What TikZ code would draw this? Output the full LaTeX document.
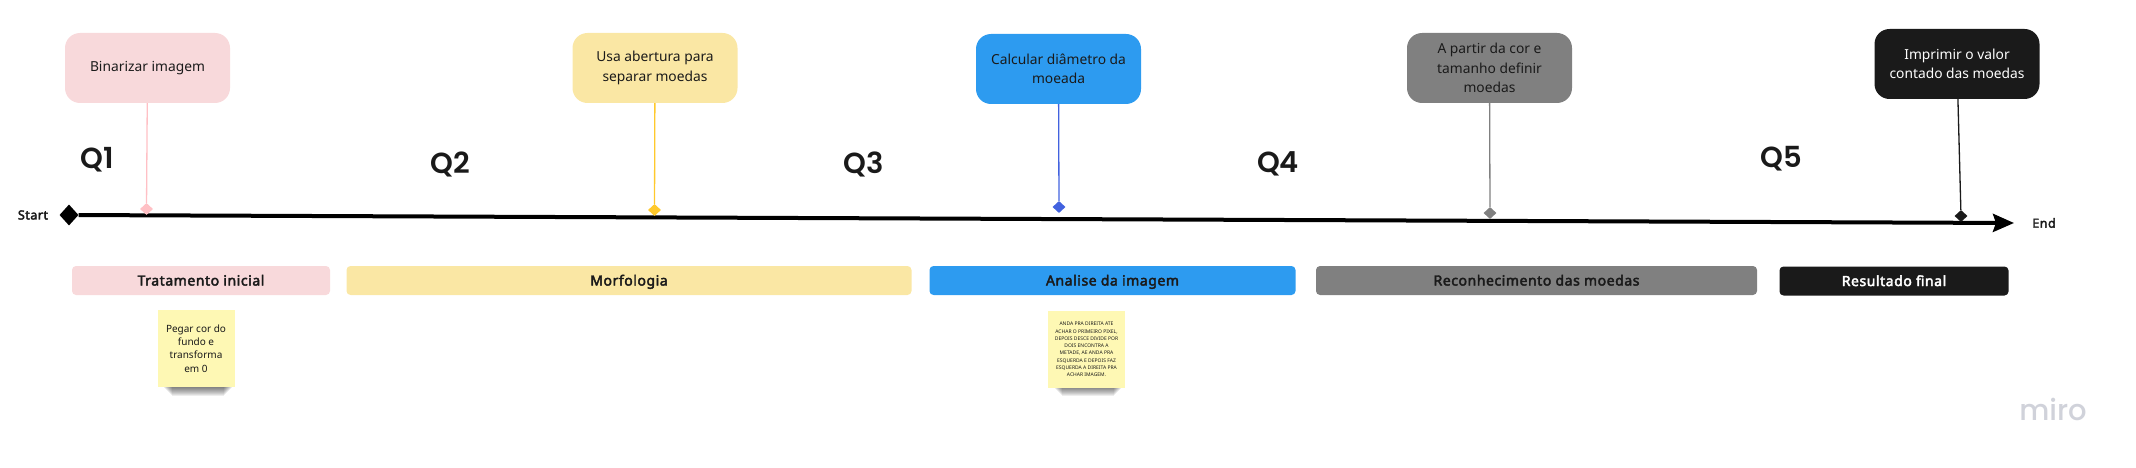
\documentclass[tikz,border=0pt]{standalone}
\usepackage{fontspec}
\setmainfont{Noto Sans}[BoldFont={Noto Sans},BoldFeatures={FakeBold=3,LetterSpace=4}]
\newfontfamily\qfont{Poppins SemiBold}
\newfontfamily\logofont{Poppins Medium}
\usetikzlibrary{positioning,arrows.meta,shapes.geometric}
\definecolor{roseclr}{RGB}{248,217,219}
\definecolor{roseline}{RGB}{255,192,197}
\definecolor{sandclr}{RGB}{250,231,164}
\definecolor{sandline}{RGB}{255,201,44}
\definecolor{skyclr}{RGB}{45,155,240}
\definecolor{skyline}{RGB}{66,98,223}
\definecolor{slateclr}{RGB}{128,128,128}
\definecolor{inkclr}{RGB}{26,26,26}
\definecolor{noteclr}{RGB}{254,248,180}
\definecolor{logoclr}{RGB}{208,210,218}
\tikzset{
  stepbox/.style={rectangle,rounded corners=15pt,minimum width=165pt,minimum height=70pt,
              inner sep=0pt,align=center,text=inkclr,
              font=\fontsize{13.8}{19.5}\selectfont},
  phase/.style={rectangle,rounded corners=4pt,minimum height=29pt,inner sep=0pt,
              text height=12pt,text depth=2pt,
              text=inkclr,font=\fontsize{14}{16}\selectfont\bfseries},
  gem/.style={diamond,minimum width=13pt,minimum height=12pt,inner sep=0pt},
  stem/.style={line width=1.3pt},
  quarter/.style={text=inkclr,inner sep=0pt,font=\fontsize{29}{29}\selectfont\qfont},
  endlabel/.style={inner sep=0pt,text=inkclr,font=\fontsize{12.5}{15}\selectfont\bfseries},
  note/.style={rectangle,fill=noteclr,minimum width=77pt,minimum height=77pt,inner sep=0pt,
              align=center,text=inkclr},
}
\begin{document}
\begin{tikzpicture}[x=1pt, y=-1pt]
\useasboundingbox (0,0) rectangle (2136,468);

% Shadows under the notes
\foreach \nx in {163,1053} {
  \foreach \d in {0,1,...,9} {
    \fill[black,opacity=0.07] (\nx+\d,384) rectangle (\nx+70-\d,387+\d);
  }
}

% Cards on top
\node[stepbox,fill=roseclr]  (cardA) at (147.5,68) {Binarizar imagem};
\node[stepbox,fill=sandclr]  (cardB) at (655,68) {Usa abertura para\\separar moedas};
\node[stepbox,fill=skyclr]   (cardC) at (1058.5,69) {Calcular diâmetro da\\moeada};
\node[stepbox,fill=slateclr] (cardD) at (1489.5,68) {A partir da cor e\\tamanho definir\\moedas};
\node[stepbox,fill=inkclr,text=white] (cardE) at (1957,64) {Imprimir o valor\\contado das moedas};

% Time line
\node[gem,fill=black,minimum width=19pt,minimum height=21pt] (start) at (69,215) {};
\coordinate (stop) at (2014,223);
\draw[line width=4pt,-{Stealth[length=21pt,width=18pt,inset=3pt]}] (start) -- (stop);
\node[endlabel] (startlbl) at (33,215) {Start};
\node[endlabel] (endlbl) at (2044,223) {End};

% Marks and stems
\node[gem,fill=roseline] (gemA) at (146.5,209) {};
\node[gem,fill=sandline] (gemB) at (654.5,210) {};
\node[gem,fill=skyline]  (gemC) at (1059,207) {};
\node[gem,fill=slateclr] (gemD) at (1490,213) {};
\node[gem,fill=inkclr]   (gemE) at (1961,216) {};
\draw[stem,roseline] (cardA) -- (gemA);
\draw[stem,sandline] (cardB) -- (gemB);
\draw[stem,skyline]  (cardC) -- (gemC);
\draw[stem,slateclr] (cardD) -- (gemD);
\draw[stem,inkclr]   (cardE) -- (gemE);

% Quarter labels
\node[quarter] (qA) at (97,160) {Q1};
\node[quarter] (qB) at (450,164) {Q2};
\node[quarter] (qC) at (864,164) {Q3};
\node[quarter] (qD) at (1278,164) {Q4};
\node[quarter] (qE) at (1781.5,159) {Q5};

% Phase bars
\node[phase,fill=roseclr,minimum width=258pt]  (barA) at (201,280.5) {Tratamento inicial};
\node[phase,fill=sandclr,minimum width=565pt]  (barB) at (629,280.5) {Morfologia};
\node[phase,fill=skyclr,minimum width=366pt]   (barC) at (1112.5,280.5) {Analise da imagem};
\node[phase,fill=slateclr,minimum width=441pt] (barD) at (1536.5,280.5) {Reconhecimento das moedas};
\node[phase,fill=inkclr,text=white,minimum width=229pt] (barE) at (1894,281) {Resultado final};

% Sticky notes
\node[note,font=\fontsize{10}{13.2}\selectfont] (noteA) at (196,348.5) {Pegar cor do\\fundo e\\transforma\\em 0};
\node[note,font=\fontsize{5}{7.3}\selectfont] (noteB) at (1086.5,349.5) {ANDA PRA DIREITA ATE\\ACHAR O PRIMEIRO PIXEL,\\DEPOIS DESCE DIVIDE POR\\DOIS ENCONTRA A\\METADE, AE ANDA PRA\\ESQUERDA E DEPOIS FAZ\\ESQUERDA A DIREITA PRA\\ACHAR IMAGEM.};

\node[inner sep=0pt,text=logoclr,font=\fontsize{29}{29}\selectfont\logofont] (logo) at (2053,409) {miro};
\end{tikzpicture}
\end{document}
